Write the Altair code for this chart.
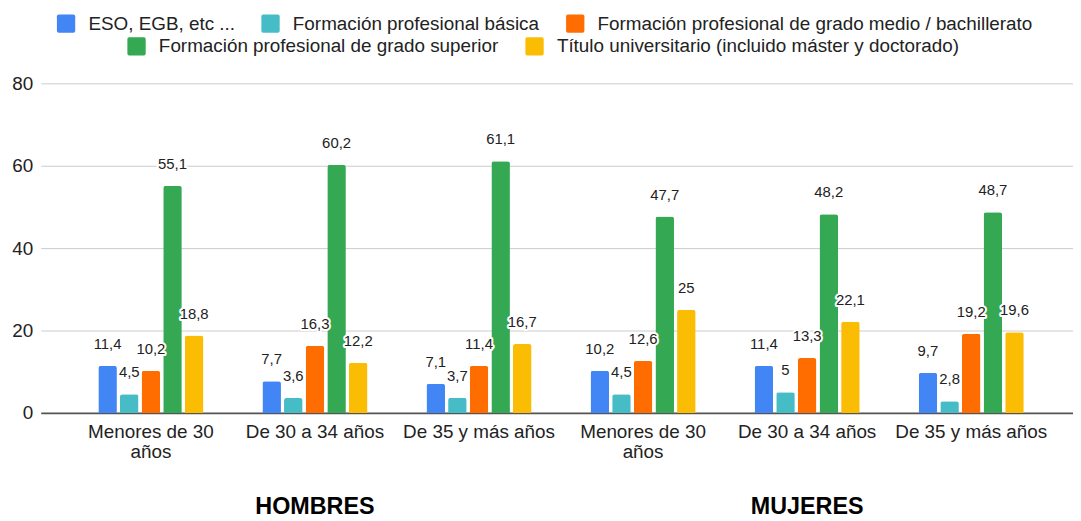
import altair as alt
import pandas as pd

# ---- data ----
groups = ["HOMBRES", "HOMBRES", "HOMBRES", "MUJERES", "MUJERES", "MUJERES"]
ages = ["Menores de 30~años", "De 30 a 34 años", "De 35 y más años",
        "Menores de 30~años", "De 30 a 34 años", "De 35 y más años"]
series = [
    "ESO, EGB, etc ...",
    "Formación profesional básica",
    "Formación profesional de grado medio / bachillerato",
    "Formación profesional de grado superior",
    "Título universitario (incluido máster y doctorado)",
]
colors = ["#4285F4", "#46BDC6", "#FF6D01", "#34A853", "#FBBC04"]
eso = [11.4, 7.7, 7.1, 10.2, 11.4, 9.7]
fp_basica = [4.5, 3.6, 3.7, 4.5, 5, 2.8]
fp_medio = [10.2, 16.3, 11.4, 12.6, 13.3, 19.2]
fp_superior = [55.1, 60.2, 61.1, 47.7, 48.2, 48.7]
universitario = [18.8, 12.2, 16.7, 25, 22.1, 19.6]
y_ticks = [0, 20, 40, 60, 80]
group_titles = ["HOMBRES", "MUJERES"]

values = [eso, fp_basica, fp_medio, fp_superior, universitario]
keys = [f"{g}|{a}" for g, a in zip(groups, ages)]

rows = []
for s, vals in zip(series, values):
    for k, v in zip(keys, vals):
        rows.append({"key": k, "serie": s, "valor": v,
                     "etiqueta": f"{v:g}".replace(".", ",")})
df = pd.DataFrame(rows)

titles_df = pd.DataFrame({"key": [keys[1], keys[4]], "titulo": group_titles})

FONT = "Liberation Sans, Arial, Helvetica, sans-serif"
TXT = "#222222"

x_enc = alt.X(
    "key:N",
    sort=keys,
    scale=alt.Scale(domain=keys, paddingInner=0.3594, paddingOuter=0.3255, align=0.539),
    axis=alt.Axis(
        title=None, ticks=False, grid=False, labelAngle=0,
        domainColor="#555555", domainWidth=2,
        labelFont=FONT, labelFontSize=19, labelColor=TXT,
        labelPadding=10, labelLineHeight=20, labelBaseline="top",
        labelExpr="split(split(datum.label, '|')[1], '~')",
    ),
)
xoff_enc = alt.XOffset("serie:N", sort=series,
                       scale=alt.Scale(domain=series, paddingInner=0.142, paddingOuter=0))
y_enc = alt.Y(
    "valor:Q",
    scale=alt.Scale(domain=[0, 80], nice=False),
    axis=alt.Axis(
        title=None, values=y_ticks, domain=False, ticks=False,
        gridColor="#cccccc", gridWidth=1,
        labelFont=FONT, labelFontSize=19, labelColor=TXT, labelPadding=8,
    ),
)

rounded = ("M -0.8 -1 L 0.8 -1 Q 1 -1 1 -0.8 L 1 0.8 Q 1 1 0.8 1 "
           "L -0.8 1 Q -1 1 -1 0.8 L -1 -0.8 Q -1 -1 -0.8 -1 Z")


def legend(lx, ly):
    return alt.Legend(
        orient="none", legendX=lx, legendY=ly, direction="horizontal",
        title=None, symbolType=rounded, symbolSize=340, symbolStrokeWidth=0,
        labelFont=FONT, labelFontSize=19, labelColor=TXT, labelLimit=800,
        labelOffset=13, columnPadding=26, padding=0, offset=0,
    )


base = alt.Chart(df)

bars_a = base.transform_filter(
    alt.FieldOneOfPredicate(field="serie", oneOf=series[:3])
).mark_bar(cornerRadiusTopLeft=2.5, cornerRadiusTopRight=2.5).encode(
    x=x_enc, xOffset=xoff_enc, y=y_enc,
    color=alt.Color("serie:N", sort=series[:3],
                    scale=alt.Scale(domain=series[:3], range=colors[:3]),
                    legend=legend(16, -70)),
)

bars_b = base.transform_filter(
    alt.FieldOneOfPredicate(field="serie", oneOf=series[3:])
).mark_bar(cornerRadiusTopLeft=2.5, cornerRadiusTopRight=2.5).encode(
    x=x_enc, xOffset=xoff_enc, y=y_enc,
    color=alt.Color("serie:N", sort=series[3:],
                    scale=alt.Scale(domain=series[3:], range=colors[3:]),
                    legend=legend(87, -47)),
)

halo = base.mark_text(
    font=FONT, fontSize=15, baseline="middle", dy=-22,
    stroke="white", strokeWidth=4, strokeJoin="round", color="white",
).encode(x=x_enc, xOffset=xoff_enc, y=y_enc, text="etiqueta:N")

labels = base.mark_text(
    font=FONT, fontSize=15, baseline="middle", dy=-22, color=TXT,
).encode(x=x_enc, xOffset=xoff_enc, y=y_enc, text="etiqueta:N")

titles = alt.Chart(titles_df).mark_text(
    font=FONT, fontSize=23.5, fontWeight="bold", color="#000000",
    baseline="alphabetic", align="center",
).encode(x=x_enc, y=alt.value(434), text="titulo:N")

chart = alt.layer(bars_a, bars_b, halo, labels, titles).resolve_scale(
    color="independent"
).resolve_legend(
    color="independent"
).properties(
    width=1040, height=332,
    padding={"left": 33, "top": 74, "right": 0, "bottom": 107},
    autosize=alt.AutoSizeParams(type="none"),
).configure_view(stroke=None)

chart.save("out.html", embed_options={"renderer": "svg", "actions": False})
